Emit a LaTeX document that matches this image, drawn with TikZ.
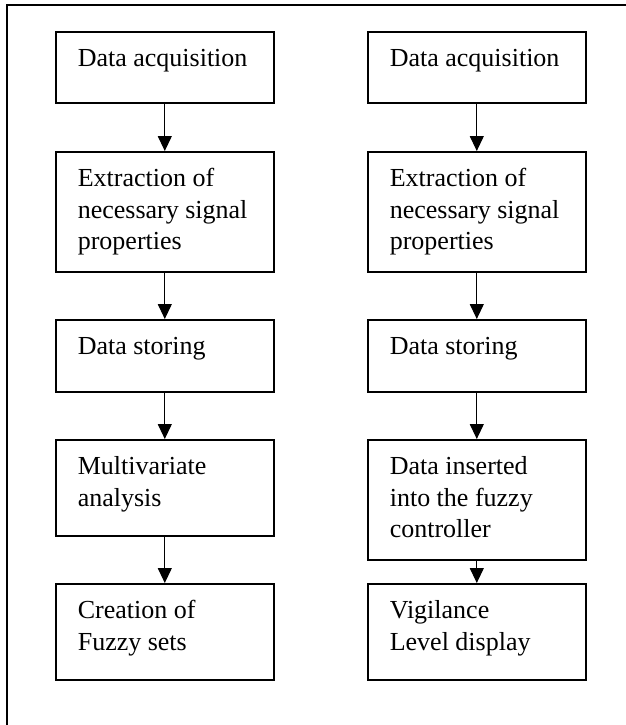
\documentclass[tikz,border=0pt]{standalone}
\usepackage{fontspec}
\setmainfont{Liberation Serif}
\usetikzlibrary{arrows.meta}
\newcommand{\boxtext}[2]{\parbox[c][#1pt][t]{218pt}{\raggedright\leftskip=22pt\rule{0pt}{35pt}#2}}
\begin{document}
\begin{tikzpicture}[x=1pt,y=-1pt,>={Triangle[width=14pt,length=15pt]},
    stepbox/.style={draw,line width=1.6pt,inner sep=0pt,anchor=north west,font=\fontsize{26pt}{31.5pt}\selectfont}]
        \useasboundingbox(0,0)rectangle(626,725);
        \draw[line width=2pt](7,730)--(7,5)--(630,5);
        \node[stepbox](1)at(55,31){\boxtext{71}{Data acquisition}};
        \node[stepbox](2)at(55,151){\boxtext{120}{Extraction of\\necessary signal\\properties}};
        \node[stepbox](3)at(55,319){\boxtext{72}{Data storing}};
        \node[stepbox](4)at(55,439){\boxtext{96}{Multivariate\\analysis}};
        \node[stepbox](5)at(55,583){\boxtext{96}{Creation of\\Fuzzy sets}};
        \node[stepbox](6)at(367,31){\boxtext{71}{Data acquisition}};
        \node[stepbox](7)at(367,151){\boxtext{120}{Extraction of\\necessary signal\\properties}};
        \node[stepbox](8)at(367,319){\boxtext{72}{Data storing}};
        \node[stepbox](9)at(367,439){\boxtext{120}{Data inserted\\into the fuzzy\\controller}};
        \node[stepbox](10)at(367,583){\boxtext{96}{Vigilance\\Level display}};
        \draw[->,line width=1.2pt](1)--(2);
        \draw[->,line width=1.2pt](2)--(3);
        \draw[->,line width=1.2pt](3)--(4);
        \draw[->,line width=1.2pt](4)--(5);
        \draw[->,line width=1.2pt](6)--(7);
        \draw[->,line width=1.2pt](7)--(8);
        \draw[->,line width=1.2pt](8)--(9);
        \draw[->,line width=1.2pt](9)--(10);
    \end{tikzpicture}
\end{document}
